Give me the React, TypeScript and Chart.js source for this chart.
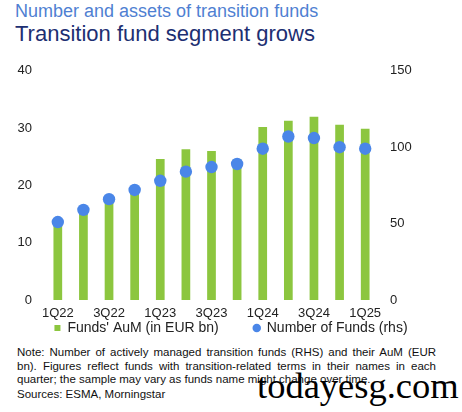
import React, { useEffect, useRef } from "react";
import { Chart, registerables } from "chart.js";

Chart.register(...registerables);

const quarters = ["1Q22", "2Q22", "3Q22", "4Q22", "1Q23", "2Q23", "3Q23", "4Q23", "1Q24", "2Q24", "3Q24", "4Q24", "1Q25"];
const aumEurBn = [13.5, 15.5, 17.3, 19.0, 24.6, 26.3, 26.0, 24.5, 30.2, 31.3, 32.0, 30.6, 29.9];
const numberOfFunds = [51, 59, 66, 72, 78, 84, 87, 89, 99, 107, 106, 100, 99];
const leftTicks = [0, 10, 20, 30, 40];
const rightTicks = [0, 50, 100, 150];

const FONT = "'Liberation Sans', Arial, Helvetica, sans-serif";
const GREEN = "#8cc63f";
const BLUE = "#4a86e8";

export default function App() {
  const canvasRef = useRef<HTMLCanvasElement | null>(null);

  useEffect(() => {
    if (!canvasRef.current) return;
    const chart = new Chart(canvasRef.current, {
      type: "bar",
      data: {
        labels: quarters,
        datasets: [
          {
            type: "line",
            label: "Number of Funds (rhs)",
            data: numberOfFunds,
            yAxisID: "y1",
            showLine: false,
            pointRadius: 6.2,
            pointHoverRadius: 6.2,
            pointBackgroundColor: BLUE,
            pointBorderWidth: 0,
            backgroundColor: BLUE,
            borderColor: BLUE,
            pointStyle: "circle",
            order: 0,
          },
          {
            type: "bar",
            label: "Funds' AuM (in EUR bn)",
            data: aumEurBn,
            yAxisID: "y",
            backgroundColor: GREEN,
            borderWidth: 0,
            barPercentage: 0.34,
            categoryPercentage: 1,
            pointStyle: "rect",
            order: 1,
          },
        ],
      },
      options: {
        animation: false,
        responsive: false,
        maintainAspectRatio: false,
        layout: { padding: { top: 18, left: 0, right: 0, bottom: 0 } },
        plugins: {
          legend: {
            position: "bottom",
            labels: {
              usePointStyle: true,
              boxWidth: 6,
              boxHeight: 6,
              padding: 0,
              color: "#222",
              font: { family: FONT, size: 14 },
              generateLabels: (ch: any) => {
                const items = Chart.defaults.plugins.legend.labels.generateLabels(ch);
                items.reverse();
                return items.map((it: any, i: number) => ({
                  ...it,
                  text: i === 0 ? it.text + "\u00a0".repeat(9) : it.text,
                  lineWidth: 0,
                }));
              },
            },
          },
          tooltip: { enabled: false },
        },
        scales: {
          x: {
            grid: { display: false, drawTicks: false },
            border: { display: false },
            afterFit: (axis: any) => {
              axis.height = 21;
            },
            ticks: {
              color: "#222",
              font: { family: FONT, size: 13 },
              padding: 6,
              maxRotation: 0,
              autoSkip: false,
              callback: (_v: any, i: number) => (i % 2 === 0 ? quarters[i] : ""),
            },
          },
          y: {
            position: "left",
            min: 0,
            max: 40,
            afterBuildTicks: (axis: any) => {
              axis.ticks = leftTicks.map((v) => ({ value: v }));
            },
            afterFit: (axis: any) => {
              axis.width = 45;
            },
            grid: { display: false, drawTicks: false },
            border: { display: false },
            ticks: { color: "#222", font: { family: FONT, size: 13 }, padding: 13 },
          },
          y1: {
            position: "right",
            min: 0,
            max: 150,
            afterBuildTicks: (axis: any) => {
              axis.ticks = rightTicks.map((v) => ({ value: v }));
            },
            afterFit: (axis: any) => {
              axis.width = 84;
            },
            grid: { display: false, drawTicks: false },
            border: { display: false },
            ticks: { color: "#222", font: { family: FONT, size: 13 }, padding: 12 },
          },
        },
      },
    });
    return () => chart.destroy();
  }, []);

  return (
    <div style={{ position: "absolute", left: 0, top: 0, width: 462, height: 412, background: "#fff", fontFamily: FONT, overflow: "hidden" }}>
      <div style={{ position: "absolute", left: 15, top: 1, fontSize: 18, lineHeight: "20px", color: "#4f7fd2", whiteSpace: "nowrap" }}>
        Number and assets of transition funds
      </div>
      <div style={{ position: "absolute", left: 15, top: 21, fontSize: 22, lineHeight: "26px", color: "#1d2f72", whiteSpace: "nowrap" }}>
        Transition fund segment grows
      </div>
      <canvas ref={canvasRef} width={462} height={295} style={{ position: "absolute", left: 0, top: 50, width: 462, height: 295 }} />
      <div style={{ position: "absolute", left: 17, top: 346, width: 419, fontSize: 11.5, lineHeight: "13.7px", color: "#111", textAlign: "justify" }}>
        Note: Number of actively managed transition funds (RHS) and their AuM (EUR bn). Figures reflect funds with transition-related terms in their names in each quarter; the sample may vary as funds name might change over time.
      </div>
      <div style={{ position: "absolute", left: 17, top: 387.5, fontSize: 11.5, lineHeight: "13.7px", color: "#111", whiteSpace: "nowrap" }}>
        Sources: ESMA, Morningstar
      </div>
      <div style={{ position: "absolute", left: 257, top: 366, fontFamily: "'Liberation Serif', 'Times New Roman', serif", fontSize: 36.5, lineHeight: "40px", color: "#000", whiteSpace: "nowrap" }}>
        todayesg.com
      </div>
    </div>
  );
}
